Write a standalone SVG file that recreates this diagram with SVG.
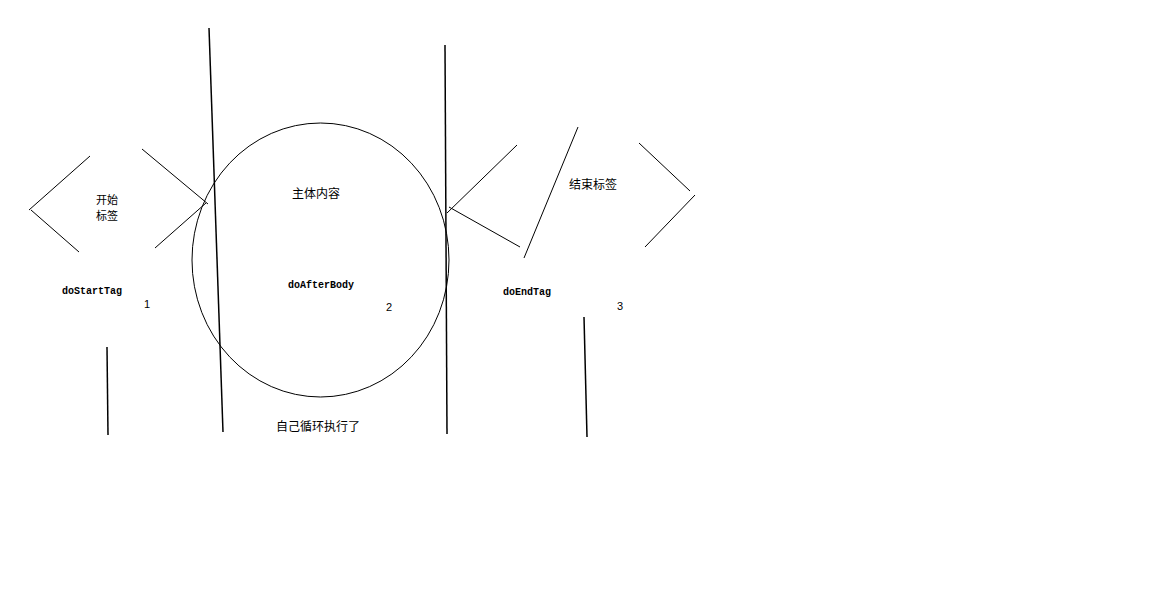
<svg xmlns="http://www.w3.org/2000/svg" width="1171" height="594" viewBox="0 0 1171 594">
<style>
.ln{stroke:#000;stroke-width:1;fill:none}
.vl{stroke:#000;stroke-width:1.5;fill:none}
.cn{font-family:"Noto Sans CJK SC",sans-serif;font-size:12px;fill:#000}
.cs{font-family:"Noto Sans CJK SC",sans-serif;font-size:11px;fill:#000}
.en{font-family:"Liberation Mono",monospace;font-size:10px;fill:#000;font-weight:bold}
.num{font-family:"Liberation Sans",sans-serif;font-size:11px;fill:#000}
</style>
<rect width="1171" height="594" fill="#fff"/>
<g id="start-tag">
<path class="ln" d="M90,156 L29,210 M31,210 L79,252 M142,149 L208,204 M206,203 L155,248"/>
<text class="cs" x="96" y="204">开始</text>
<text class="cs" x="96" y="220">标签</text>
<text class="en" x="62" y="294">doStartTag</text>
<text class="num" x="144" y="308">1</text>
</g>
<g id="body">
<ellipse class="ln" cx="320.5" cy="260" rx="128.5" ry="137"/>
<text class="cn" x="292" y="198">主体内容</text>
<text class="en" x="288" y="288">doAfterBody</text>
<text class="num" x="386" y="311">2</text>
<text class="cn" x="276" y="431">自己循环执行了</text>
</g>
<g id="end-tag">
<path class="ln" d="M517,145 L447,213 M449,207 L520,247 M578,127 L524,258 M639,143 L690,191 M695,195 L645,247"/>
<text class="cn" x="569" y="189">结束标签</text>
<text class="en" x="503" y="295">doEndTag</text>
<text class="num" x="617" y="310">3</text>
</g>
<g id="connectors">
<path class="vl" d="M209,28 L223,432"/>
<path class="vl" d="M445,45 L447,434"/>
<path class="vl" d="M584,317 L587,437"/>
<path class="vl" d="M107,347 L108,435"/>
</g>
</svg>
